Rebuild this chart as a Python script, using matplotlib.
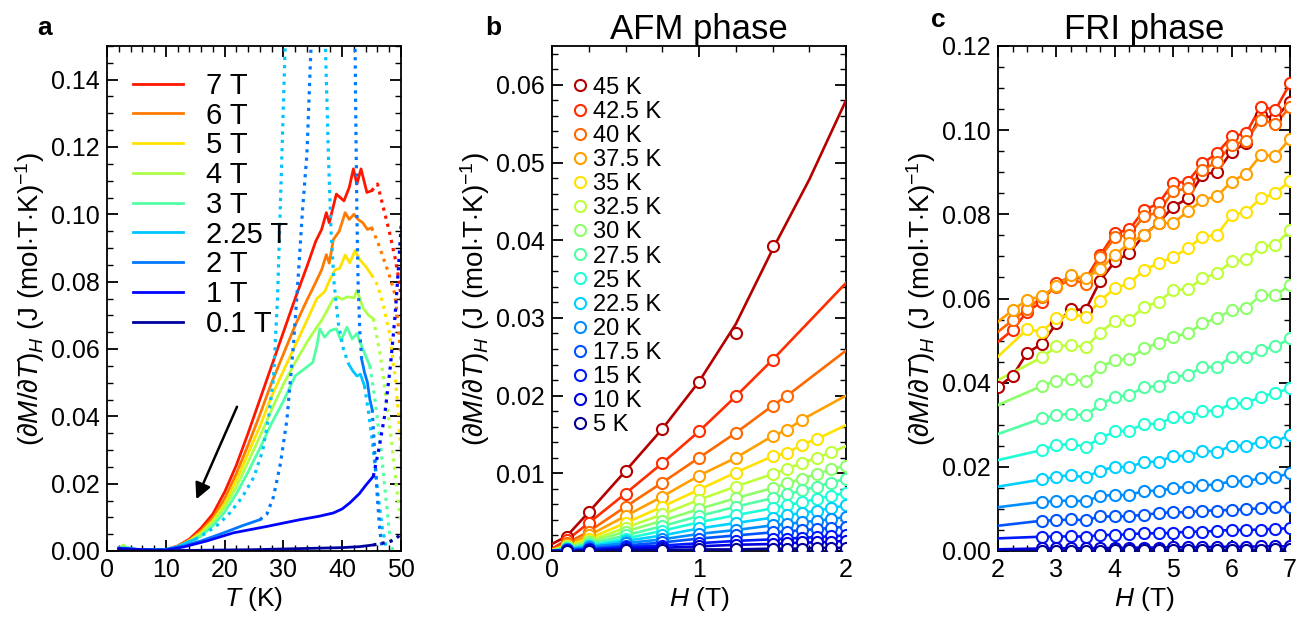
import numpy as np
import matplotlib.pyplot as plt
from matplotlib import cm
from matplotlib.ticker import AutoMinorLocator, MultipleLocator, FormatStrFormatter

plt.rcParams['font.family'] = ['Liberation Sans', 'DejaVu Sans']
plt.rcParams['mathtext.fontset'] = 'custom'
plt.rcParams['mathtext.rm'] = 'Liberation Sans'
plt.rcParams['mathtext.it'] = 'Liberation Sans:italic'
plt.rcParams['mathtext.bf'] = 'Liberation Sans:bold'

# ---------------- panel a : dM/dT vs T ----------------
t7 = [2, 3, 5, 8, 10, 12, 14, 16, 18, 20, 22, 24, 26, 28, 30, 32, 34, 35.5, 36.5, 37.3, 37.8, 39, 40.3, 41.2, 41.9, 42.5, 43.2, 44.2, 45]
m7 = [0.0005, 0.001, 0.0004, 0.0002, 0.0004, 0.0015, 0.0035, 0.0068, 0.011, 0.0175, 0.0255, 0.035, 0.045, 0.055, 0.065, 0.075, 0.0845, 0.092, 0.0955, 0.1005, 0.0975, 0.106, 0.104, 0.108, 0.1135, 0.109, 0.1135, 0.1065, 0.107]
td7 = [45, 46, 47, 48, 49, 49.7, 50.5]
md7 = [0.107, 0.109, 0.102, 0.095, 0.087, 0.08, 0.068]

t6 = [2, 3, 5, 8, 10, 12, 14, 16, 18, 20, 22, 24, 26, 28, 30, 32, 34, 35, 36.5, 37.3, 37.8, 38.5, 39.5, 40.5, 41.2, 42, 42.7, 43.5, 44.3, 45]
m6 = [0.0005, 0.0009, 0.0004, 0.0002, 0.0004, 0.0014, 0.0032, 0.006, 0.0098, 0.0155, 0.023, 0.0315, 0.0405, 0.05, 0.0585, 0.067, 0.0745, 0.078, 0.0835, 0.088, 0.0855, 0.0925, 0.095, 0.1005, 0.0985, 0.1, 0.0985, 0.0975, 0.0955, 0.096]
td6 = [45, 46, 47, 48, 49, 49.6, 50.5]
md6 = [0.096, 0.092, 0.087, 0.082, 0.076, 0.066, 0.045]

t5 = [2, 3, 5, 8, 10, 12, 14, 16, 18, 20, 22, 24, 26, 28, 30, 32, 34, 35.7, 37, 38, 38.8, 39.6, 40.5, 41.3, 42.2, 43, 44, 45]
m5 = [0.0005, 0.0009, 0.0004, 0.0002, 0.0004, 0.0013, 0.003, 0.0055, 0.009, 0.014, 0.021, 0.029, 0.037, 0.046, 0.0535, 0.061, 0.0685, 0.075, 0.077, 0.081, 0.0835, 0.084, 0.0879, 0.0856, 0.0893, 0.0865, 0.0845, 0.082]
td5 = [45, 46, 47, 48, 49, 49.6, 50.5]
md5 = [0.082, 0.079, 0.073, 0.065, 0.052, 0.04, 0.015]

t4 = [2, 2.8, 3.5, 5, 8, 10, 12, 14, 16, 18, 20, 22, 24, 26, 28, 30, 32, 34, 35.5, 36.5, 37.3, 38.5, 39.2, 40, 41, 42, 42.5, 43.6, 44.5, 45.3]
m4 = [0.0007, 0.0018, 0.0006, 0.0004, 0.0002, 0.0004, 0.0012, 0.0028, 0.005, 0.0085, 0.013, 0.019, 0.0265, 0.034, 0.042, 0.0495, 0.056, 0.062, 0.066, 0.0685, 0.071, 0.075, 0.0755, 0.0748, 0.0755, 0.0752, 0.0774, 0.072, 0.07, 0.069]
td4 = [45.3, 46.5, 47.5, 48.5, 49.3, 50, 50.5]
md4 = [0.069, 0.058, 0.045, 0.031, 0.018, 0.008, 0.004]

t3 = [2, 3, 5, 8, 10, 12, 14, 16, 18, 20, 22, 24, 26, 28, 30, 32, 33.5, 35, 35.7, 36.2, 37, 38, 39, 39.8, 40.8, 41.7, 42.5, 43.5, 44.7]
m3 = [0.0006, 0.0012, 0.0005, 0.0002, 0.0004, 0.0011, 0.0025, 0.0045, 0.0075, 0.0115, 0.017, 0.0235, 0.0305, 0.038, 0.0445, 0.052, 0.054, 0.056, 0.061, 0.066, 0.0635, 0.0655, 0.066, 0.0625, 0.0665, 0.063, 0.0646, 0.06, 0.055]
td3 = [44.7, 45.5, 46.5, 47.3, 48, 48.6]
md3 = [0.055, 0.046, 0.032, 0.018, 0.006, 0.0]

# 2.25 T: low-T solid, rise (dotted), fall (dotted), high-T solid, tail (dotted)
t225a = [2, 3, 5, 8, 10, 12, 13.5, 15]
m225a = [0.0006, 0.0008, 0.0004, 0.0003, 0.0005, 0.0013, 0.0025, 0.0035]
td225a = [15, 17, 19, 21, 23, 25, 26.5, 27.5, 28.3, 29, 29.7, 30.3, 30.6]
md225a = [0.0035, 0.0055, 0.008, 0.0115, 0.016, 0.022, 0.03, 0.04, 0.051, 0.075, 0.115, 0.15, 0.165]
td225b = [36.9, 37.3, 37.7, 38.1, 38.6, 39.3, 40.2, 41.1]
md225b = [0.165, 0.14, 0.115, 0.095, 0.08, 0.068, 0.06, 0.0555]
t225b = [41.1, 41.8, 42.5, 43.1, 43.8]
m225b = [0.0555, 0.0535, 0.052, 0.0525, 0.049]
td225c = [43.8, 44.5, 45.3, 46, 46.8, 47.6]
md225c = [0.049, 0.041, 0.03, 0.018, 0.007, 0.0]

# 2 T
t2a = [2, 3, 5, 8, 10, 13, 16, 20, 23, 26]
m2a = [0.0009, 0.0008, 0.0005, 0.0004, 0.0004, 0.0015, 0.003, 0.0055, 0.0075, 0.0093]
td2a = [26, 27.2, 28.3, 29.5, 30.6, 31.7, 32.5, 33.2, 34, 34.7, 35]
md2a = [0.0093, 0.011, 0.016, 0.026, 0.039, 0.061, 0.081, 0.1, 0.118, 0.15, 0.165]
td2b = [42.1, 42.3, 42.5, 42.7, 43, 43.3]
md2b = [0.165, 0.13, 0.1, 0.08, 0.065, 0.057]
t2b = [43.3, 43.8, 44.3, 44.7, 45.1]
m2b = [0.057, 0.053, 0.05, 0.045, 0.042]
td2c = [45.1, 45.5, 45.9, 46.3, 46.8]
md2c = [0.042, 0.03, 0.018, 0.008, 0.0]

# 1 T
t1 = [2, 3, 5, 8, 10, 13, 17, 21.5, 27.2, 32.8, 36, 38.5, 40, 41.3, 42.9, 44, 45.3]
m1 = [0.0008, 0.0007, 0.0005, 0.0003, 0.0003, 0.0012, 0.003, 0.0054, 0.0073, 0.0093, 0.0103, 0.0113, 0.0125, 0.0143, 0.017, 0.0195, 0.0222]
td1 = [45.3, 46.2, 47.2, 48.2, 49, 49.6, 50.5]
md1 = [0.0222, 0.03, 0.04, 0.055, 0.07, 0.085, 0.11]

# 0.1 T
t01 = [2, 5, 10, 15, 20, 25, 30, 35, 40, 43, 45.3]
m01 = [0.0004, 0.0002, 0.0001, 0.0002, 0.0003, 0.0004, 0.0006, 0.0008, 0.001, 0.0013, 0.0018]
td01 = [45.3, 46.5, 48, 49, 50, 50.5]
md01 = [0.0018, 0.0022, 0.0027, 0.0035, 0.005, 0.006]

a_labels = ['7 T', '6 T', '5 T', '4 T', '3 T', '2.25 T', '2 T', '1 T', '0.1 T']
a_cpos = [0.885, 0.78, 0.67, 0.56, 0.45, 0.32, 0.245, 0.13, 0.03]
a_solid = [[(t7, m7)], [(t6, m6)], [(t5, m5)], [(t4, m4)], [(t3, m3)],
           [(t225a, m225a), (t225b, m225b)], [(t2a, m2a), (t2b, m2b)],
           [(t1, m1)], [(t01, m01)]]
a_dotted = [[(td7, md7)], [(td6, md6)], [(td5, md5)], [(td4, md4)], [(td3, md3)],
            [(td225a, md225a), (td225b, md225b), (td225c, md225c)],
            [(td2a, md2a), (td2b, md2b), (td2c, md2c)],
            [(td1, md1)], [(td01, md01)]]

# ---------------- panel b : AFM phase ----------------
b_labels = ['45 K', '42.5 K', '40 K', '37.5 K', '35 K', '32.5 K', '30 K', '27.5 K',
            '25 K', '22.5 K', '20 K', '17.5 K', '15 K', '10 K', '5 K']
b_fields = [0.1, 0.25, 0.5, 0.75, 1.0, 1.25, 1.5, 1.6, 1.7, 1.8, 1.9, 2.0]
b_vals = [
    [0.0018, 0.005, 0.0103, 0.0157, 0.0218, 0.0281, 0.0392],
    [0.0014, 0.0036, 0.0074, 0.0113, 0.0154, 0.0199, 0.0246],
    [0.001, 0.0025, 0.0057, 0.0088, 0.012, 0.0152, 0.0187, 0.020],
    [0.0008, 0.002, 0.0045, 0.007, 0.0097, 0.012, 0.0148, 0.0156, 0.0169],
    [0.0007, 0.0016, 0.0036, 0.0057, 0.0079, 0.0101, 0.0122, 0.0126, 0.0137, 0.0144],
    [0.0006, 0.0013, 0.003, 0.0047, 0.0066, 0.0083, 0.0099, 0.0106, 0.0113, 0.012, 0.0127],
    [0.0005, 0.0011, 0.0025, 0.0039, 0.0054, 0.0068, 0.0081, 0.0087, 0.0093, 0.0099, 0.0105, 0.011],
    [0.0004, 0.0009, 0.002, 0.0032, 0.0045, 0.0057, 0.0068, 0.0073, 0.0078, 0.0083, 0.0088, 0.0093],
    [0.0003, 0.0007, 0.0016, 0.0026, 0.0037, 0.0046, 0.0055, 0.0059, 0.0063, 0.0067, 0.0071, 0.0075],
    [0.0003, 0.0006, 0.0013, 0.002, 0.0029, 0.0036, 0.0043, 0.0046, 0.0049, 0.0052, 0.0055, 0.0059],
    [0.0002, 0.0005, 0.001, 0.0015, 0.0022, 0.0027, 0.0033, 0.0035, 0.0037, 0.0039, 0.0041, 0.0044],
    [0.0001, 0.0003, 0.0007, 0.0011, 0.0016, 0.002, 0.0024, 0.0025, 0.0027, 0.0028, 0.003, 0.0031],
    [0.0001, 0.0002, 0.0005, 0.0007, 0.001, 0.0013, 0.0015, 0.0016, 0.0017, 0.0018, 0.0019, 0.002],
    [0.0, 0.0001, 0.0003, 0.0004, 0.0006, 0.0008, 0.0009, 0.001, 0.0011, 0.0011, 0.0012, 0.0013],
    [0.0, 0.0, 0.0001, 0.0001, 0.0002, 0.0002, 0.0003, 0.0003, 0.0003, 0.0004, 0.0004, 0.0004],
]
b_start = [0.0009, 0.0003, 0.0002, 0.0001, 0.0001, 0.0001, 0.0, 0.0, 0.0, 0.0, 0.0, 0.0, 0.0, 0.0, 0.0]
b_end = [0.058, 0.0345, 0.0258, 0.020, 0.0162, 0.0135, None, None, None, None, None, None, None, None, None]
# the 45 K line is a smooth fit that does not pass through every point
b45_line_h = [0, 0.1, 0.25, 0.5, 0.75, 1.0, 1.25, 1.5, 1.75, 2.0]
b45_line_v = [0.0009, 0.0019, 0.005, 0.0103, 0.0157, 0.0218, 0.0292, 0.0388, 0.0478, 0.058]

# ---------------- panel c : FRI phase ----------------
c_fields = [2.0, 2.25, 2.5, 2.75, 3.0, 3.25, 3.5, 3.75, 4.0, 4.25, 4.5, 4.75,
            5.0, 5.25, 5.5, 5.75, 6.0, 6.25, 6.5, 6.75, 7.0]
c_vals = [
    [0.039, 0.0416, 0.0471, 0.0492, 0.0541, 0.0574, 0.0573, 0.0642, 0.0688, 0.0708, 0.0751, 0.078, 0.0818, 0.0838, 0.0894, 0.0901, 0.0949, 0.0969, 0.1036, 0.1028, 0.1068],
    [0.0525, 0.0569, 0.0592, 0.0636, 0.0652, 0.0646, 0.0703, 0.0755, 0.0764, 0.081, 0.0826, 0.0874, 0.0878, 0.0921, 0.0945, 0.0985, 0.0993, 0.1056, 0.1048, 0.1111],
    [0.0548, 0.0575, 0.0604, 0.0628, 0.0645, 0.0635, 0.0698, 0.0745, 0.0752, 0.0795, 0.0805, 0.0855, 0.0862, 0.0905, 0.0925, 0.0965, 0.0975, 0.1025, 0.1015, 0.1055],
    [0.0572, 0.0597, 0.0605, 0.063, 0.0655, 0.0648, 0.067, 0.0703, 0.0732, 0.0751, 0.0779, 0.0779, 0.0807, 0.0834, 0.0843, 0.0878, 0.0897, 0.0941, 0.0939, 0.098],
    [0.0527, 0.0521, 0.0553, 0.0562, 0.0557, 0.0595, 0.0624, 0.0636, 0.0668, 0.0684, 0.0699, 0.0719, 0.0747, 0.0751, 0.0798, 0.0806, 0.0838, 0.085, 0.088],
    [0.046, 0.0486, 0.0489, 0.0484, 0.0519, 0.0547, 0.0549, 0.058, 0.0592, 0.062, 0.0622, 0.0648, 0.066, 0.0688, 0.0693, 0.0723, 0.0727, 0.0763],
    [0.0392, 0.0405, 0.0409, 0.0403, 0.0437, 0.0454, 0.0456, 0.0482, 0.0494, 0.0509, 0.0517, 0.0541, 0.0553, 0.0573, 0.0577, 0.0608, 0.0608, 0.0632],
    [0.0315, 0.0323, 0.0326, 0.0322, 0.0349, 0.0365, 0.0371, 0.0389, 0.0392, 0.0413, 0.0418, 0.0437, 0.0437, 0.0462, 0.0462, 0.0478, 0.0486, 0.0505],
    [0.024, 0.0252, 0.0254, 0.0248, 0.0268, 0.0284, 0.0286, 0.0302, 0.0302, 0.0318, 0.0318, 0.0333, 0.0333, 0.0351, 0.0351, 0.0367, 0.0375, 0.0387],
    [0.017, 0.0177, 0.018, 0.0175, 0.0191, 0.02, 0.0199, 0.0212, 0.0212, 0.0226, 0.0226, 0.0238, 0.0236, 0.025, 0.025, 0.026, 0.026, 0.0276],
    [0.0117, 0.0119, 0.012, 0.0118, 0.0131, 0.0133, 0.0133, 0.0143, 0.0143, 0.0149, 0.0153, 0.0156, 0.0158, 0.0166, 0.0166, 0.0173, 0.0175, 0.0185],
    [0.0072, 0.0073, 0.0075, 0.0073, 0.0082, 0.0082, 0.0083, 0.0086, 0.009, 0.0092, 0.0092, 0.0096, 0.0096, 0.0098, 0.0099, 0.0102, 0.0104, 0.0105],
    [0.0034, 0.0034, 0.0035, 0.0034, 0.0038, 0.0038, 0.004, 0.0042, 0.0042, 0.0043, 0.0046, 0.0046, 0.0048, 0.005, 0.005, 0.0051, 0.0053, 0.0054],
    [0.0006, 0.0006, 0.0007, 0.0006, 0.0007, 0.0007, 0.0008, 0.0008, 0.0008, 0.0009, 0.0009, 0.0009, 0.001, 0.001, 0.001, 0.0011, 0.0011, 0.0011],
    [0.0001, 0.0001, 0.0001, 0.0001, 0.0001, 0.0002, 0.0002, 0.0002, 0.0002, 0.0002, 0.0002, 0.0003, 0.0003, 0.0003, 0.0003, 0.0003, 0.0004, 0.0004],
]
c_start = [None, 0.0497, 0.0521, 0.0545, 0.0462, 0.0406, 0.0347, 0.0278, 0.0216, 0.0153, 0.0104, 0.006, 0.003, 0.0004, 0.0]

t_cpos = [0.95, 0.86, 0.8, 0.74, 0.67, 0.58, 0.52, 0.45, 0.39, 0.33, 0.265, 0.21, 0.15, 0.085, 0.02]
t_colors = [cm.jet(p) for p in t_cpos]

fig = plt.figure(figsize=(13.04, 6.19), dpi=100)
W, H = 1304, 619
ax_a = fig.add_axes([107 / W, 1 - 551 / H, 294 / W, 505 / H])
ax_b = fig.add_axes([552 / W, 1 - 551 / H, 294 / W, 505 / H])
ax_c = fig.add_axes([998 / W, 1 - 551 / H, 292 / W, 505 / H])

ylab = r'$(\partial M/\partial T)_H$ (J (mol$\cdot$T$\cdot$K)$^{-1}$)'

for ax in (ax_a, ax_b, ax_c):
    ax.tick_params(which='both', direction='in', top=True, right=True, labelsize=18)
    ax.tick_params(which='major', length=8, width=1.3, pad=5)
    ax.tick_params(which='minor', length=4, width=1.0)
    for s in ax.spines.values():
        s.set_linewidth(1.3)
    ax.set_ylabel(ylab, fontsize=20, labelpad=3)

# panel a
for lab, cp, sol, dot in zip(a_labels, a_cpos, a_solid, a_dotted):
    col = cm.jet(cp)
    for i, (x, y) in enumerate(sol):
        ax_a.plot(x, y, color=col, lw=2.0, label=lab if i == 0 else None)
    for x, y in dot:
        ax_a.plot(x, y, color=col, lw=2.3, ls=(0, (1, 1.6)))
ax_a.annotate('', xy=(15.0, 0.0146), xytext=(22.3, 0.0436),
              arrowprops=dict(arrowstyle='-|>', color='k', lw=1.8, mutation_scale=24))
ax_a.set_xlim(0, 50)
ax_a.set_ylim(0, 0.15)
ax_a.xaxis.set_major_locator(MultipleLocator(10))
ax_a.xaxis.set_minor_locator(AutoMinorLocator(5))
ax_a.yaxis.set_major_locator(MultipleLocator(0.02))
ax_a.yaxis.set_minor_locator(AutoMinorLocator(4))
ax_a.yaxis.set_major_formatter(FormatStrFormatter('%.2f'))
ax_a.set_xlabel(r'$T$ (K)', fontsize=19, labelpad=2)
ax_a.legend(loc='upper left', bbox_to_anchor=(0.05, 0.972), frameon=False, fontsize=21,
            handlelength=1.7, handletextpad=0.8, labelspacing=0.06, borderaxespad=0)
fig.text(45 / W, 1 - 28 / H, 'a', fontsize=19, fontweight='bold', ha='center', va='center')

# panel b
for k, (lab, vals) in enumerate(zip(b_labels, b_vals)):
    col = t_colors[k]
    hh = b_fields[:len(vals)]
    if k == 0:
        ax_b.plot(b45_line_h, b45_line_v, color=col, lw=1.9, zorder=3)
    else:
        lx = [0.0] + hh
        ly = [b_start[k]] + vals
        if b_end[k] is not None:
            lx = lx + [2.0]
            ly = ly + [b_end[k]]
        ax_b.plot(lx, ly, color=col, lw=1.9, zorder=3)
    ax_b.plot(hh, vals, ls='none', marker='o', ms=8, mew=1.5, mec=col, mfc='white',
              zorder=4, label=lab)
ax_b.set_xlim(0, 2)
ax_b.set_ylim(0, 0.065)
ax_b.xaxis.set_major_locator(MultipleLocator(1))
ax_b.xaxis.set_minor_locator(AutoMinorLocator(4))
ax_b.yaxis.set_major_locator(MultipleLocator(0.01))
ax_b.yaxis.set_minor_locator(AutoMinorLocator(5))
ax_b.yaxis.set_major_formatter(FormatStrFormatter('%.2f'))
ax_b.set_xlabel(r'$H$ (T)', fontsize=19, labelpad=2)
ax_b.set_title('AFM phase', fontsize=25, pad=5)
ax_b.legend(loc='upper left', bbox_to_anchor=(0.04, 0.958), frameon=False, fontsize=17,
            handlelength=0.6, handletextpad=0.25, labelspacing=0.09, borderaxespad=0,
            markerscale=1.0)
fig.text(493 / W, 1 - 28 / H, 'b', fontsize=19, fontweight='bold', ha='center', va='center')

# panel c
for k, vals in enumerate(c_vals):
    col = t_colors[k]
    hh = c_fields[len(c_fields) - len(vals):]
    lx, ly = list(hh), list(vals)
    if c_start[k] is not None:
        lx = [2.0] + lx
        ly = [c_start[k]] + ly
    ax_c.plot(lx, ly, color=col, lw=1.9, zorder=3)
    ax_c.plot(hh, vals, ls='none', marker='o', ms=8, mew=1.5, mec=col, mfc='white', zorder=4)
ax_c.set_xlim(2, 7)
ax_c.set_ylim(0, 0.12)
ax_c.xaxis.set_major_locator(MultipleLocator(1))
ax_c.xaxis.set_minor_locator(AutoMinorLocator(4))
ax_c.yaxis.set_major_locator(MultipleLocator(0.02))
ax_c.yaxis.set_minor_locator(AutoMinorLocator(4))
ax_c.yaxis.set_major_formatter(FormatStrFormatter('%.2f'))
ax_c.set_xlabel(r'$H$ (T)', fontsize=19, labelpad=2)
ax_c.set_title('FRI phase', fontsize=25, pad=5)
fig.text(938 / W, 1 - 20 / H, 'c', fontsize=19, fontweight='bold', ha='center', va='center')

fig.savefig('out.png', dpi=100)
